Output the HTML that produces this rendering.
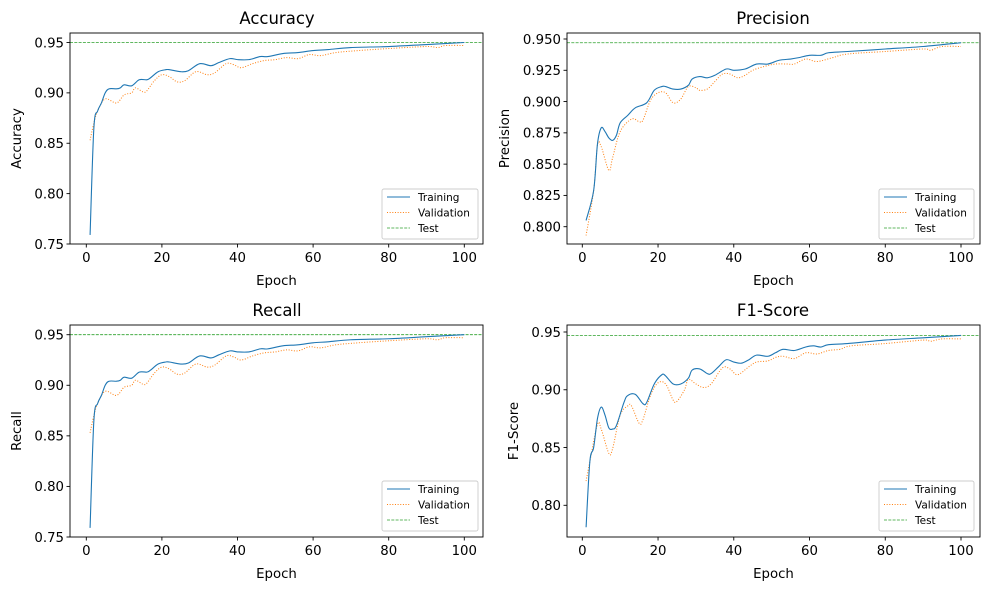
<!DOCTYPE html>
<html><head><meta charset="utf-8"><style>
body{margin:0;background:#fff}
svg{display:block;font-family:"DejaVu Sans","Liberation Sans",sans-serif}
</style></head><body>
<svg id="s" width="989" height="590" xmlns="http://www.w3.org/2000/svg">
<rect width="989" height="590" fill="#fff"/>
<g id="g"></g>
<text x="277" y="24" font-size="16.5" text-anchor="middle">Accuracy</text>
<text x="773" y="24" font-size="16.5" text-anchor="middle">Precision</text>
<text x="277" y="316" font-size="16.5" text-anchor="middle">Recall</text>
<text x="773" y="316" font-size="16.5" text-anchor="middle">F1-Score</text>
</svg>
<script>
const acT=[[1,.759],[2,.865],[3,.882],[4,.890],[5,.900],[6,.904],[8,.904],[9,.905],[10,.908],[12,.907],[14,.913],[16,.913],[17,.915],[19,.921],[21,.923],[22,.923],[25,.921],[27,.922],[30,.929],[33,.927],[35,.930],[38,.934],[40,.933],[43,.933],[46,.936],[48,.936],[52,.939],[56,.940],[60,.942],[64,.943],[70,.945],[80,.946],[90,.948],[100,.950]];
const acV=[[1,.853],[2,.870],[3,.882],[5,.894],[8,.890],[10,.898],[12,.900],[13,.905],[15,.901],[16,.902],[18,.912],[20,.918],[22,.916],[24,.911],[26,.912],[29,.921],[32,.918],[34,.920],[37,.929],[39,.928],[41,.925],[44,.929],[47,.932],[50,.933],[53,.935],[56,.934],[59,.938],[62,.937],[66,.940],[72,.942],[80,.944],[90,.946],[93,.945],[95,.947],[100,.947]];
const prT=[[1,.805],[3,.829],[4,.866],[5,.879],[6,.876],[7,.871],[8,.869],[9,.873],[10,.883],[12,.889],[14,.895],[17,.899],[19,.909],[21,.912],[22,.912],[24,.910],[26,.910],[28,.913],[29,.918],[31,.920],[33,.919],[35,.921],[38,.926],[40,.925],[43,.926],[46,.930],[49,.930],[52,.933],[55,.934],[57,.935],[60,.937],[63,.937],[65,.939],[70,.940],[80,.942],[90,.944],[100,.947]];
const prV=[[1,.793],[3,.829],[4,.865],[5,.864],[7,.845],[8,.855],[10,.876],[13,.886],[15,.884],[16,.885],[18,.901],[20,.907],[22,.907],[24,.899],[26,.902],[28,.912],[30,.911],[31,.909],[33,.910],[35,.916],[37,.922],[39,.922],[41,.919],[43,.921],[45,.925],[48,.928],[51,.930],[54,.930],[56,.930],[59,.934],[62,.932],[66,.935],[70,.938],[80,.940],[90,.942],[92,.941],[95,.944],[100,.944]];
const f1T=[[1,.781],[2,.838],[3,.850],[4,.875],[5,.885],[6,.878],[7,.867],[8,.866],[9,.869],[11,.889],[12,.895],[14,.896],[16,.888],[17,.889],[19,.905],[21,.913],[22,.912],[24,.905],[26,.905],[28,.910],[29,.917],[31,.918],[33,.914],[34,.914],[36,.920],[38,.926],[40,.924],[42,.923],[44,.926],[46,.930],[49,.929],[51,.932],[53,.935],[56,.934],[59,.937],[61,.938],[63,.937],[65,.939],[70,.940],[80,.943],[90,.945],[100,.947]];
const f1V=[[1,.821],[2,.838],[4,.870],[5,.866],[7,.845],[8,.849],[10,.878],[12,.886],[13,.886],[15,.871],[16,.874],[18,.895],[20,.906],[22,.905],[24,.891],[25,.890],[27,.900],[28,.909],[30,.905],[32,.902],[34,.905],[37,.919],[39,.918],[41,.913],[44,.920],[46,.924],[49,.925],[51,.928],[53,.929],[56,.927],[59,.932],[62,.931],[65,.934],[68,.935],[71,.938],[80,.940],[90,.943],[92,.942],[95,.944],[100,.944]];
const axes=[
{l:70,r:483,t:33,b:244,x0:86.3,x1:464.3,v0:.95,p0:42.5,v1:.75,p1:244,ticks:[.75,.8,.85,.9,.95],fmt:2,yl:"Accuracy",ylx:16,T:acT,V:acV,test:.95,lg:[382,189,478]},
{l:567,r:980,t:33,b:244,x0:582.3,x1:961,v0:.95,p0:39,v1:.8,p1:226.7,ticks:[.8,.825,.85,.875,.9,.925,.95],fmt:3,yl:"Precision",ylx:504,T:prT,V:prV,test:.947,lg:[879,189,974]},
{l:70,r:483,t:325,b:537,x0:86.3,x1:464.3,v0:.95,p0:334.7,v1:.75,p1:537,ticks:[.75,.8,.85,.9,.95],fmt:2,yl:"Recall",ylx:16,T:acT,V:acV,test:.95,lg:[382,481,478]},
{l:567,r:980,t:325,b:537,x0:582.3,x1:961,v0:.95,p0:332,v1:.8,p1:505.3,ticks:[.8,.85,.9,.95],fmt:2,yl:"F1-Score",ylx:513,T:f1T,V:f1V,test:.947,lg:[879,481,974]}];
let h="";
function path(pts,fx,fy){const P=pts.map(p=>[fx(p[0]),fy(p[1])]);let d="M"+P[0][0].toFixed(2)+","+P[0][1].toFixed(2);
for(let i=0;i<P.length-1;i++){const p0=P[Math.max(0,i-1)],p1=P[i],p2=P[i+1],p3=P[Math.min(P.length-1,i+2)];
const c1=[p1[0]+(p2[0]-p0[0])/6,p1[1]+(p2[1]-p0[1])/6],c2=[p2[0]-(p3[0]-p1[0])/6,p2[1]-(p3[1]-p1[1])/6];
d+="C"+c1.map(v=>v.toFixed(2))+" "+c2.map(v=>v.toFixed(2))+" "+p2.map(v=>v.toFixed(2));}return d;}
for(const a of axes){
const fx=e=>a.x0+(a.x1-a.x0)*e/100, fy=v=>a.p0+(a.p1-a.p0)*(v-a.v0)/(a.v1-a.v0);
h+=`<line x1="${a.l}" x2="${a.r}" y1="${fy(a.test)}" y2="${fy(a.test)}" stroke="#2ca02c" stroke-width="0.8" stroke-dasharray="3,1.3"/>`;
h+=`<path d="${path(a.V,fx,fy)}" fill="none" stroke="#ff7f0e" stroke-width="1" stroke-dasharray="1,1.65"/>`;
h+=`<path d="${path(a.T,fx,fy)}" fill="none" stroke="#1f77b4" stroke-width="1.1"/>`;
h+=`<rect x="${a.l}" y="${a.t}" width="${a.r-a.l}" height="${a.b-a.t}" fill="none" stroke="#000" stroke-width="0.9"/>`;
for(let e=0;e<=100;e+=20){const x=fx(e);h+=`<line x1="${x}" x2="${x}" y1="${a.b}" y2="${a.b+3.5}" stroke="#000" stroke-width="0.9"/><text x="${x}" y="${a.b+18}" font-size="13.3" text-anchor="middle">${e}</text>`;}
for(const v of a.ticks){const y=fy(v);h+=`<line x1="${a.l-3.5}" x2="${a.l}" y1="${y}" y2="${y}" stroke="#000" stroke-width="0.9"/><text x="${a.l-6}" y="${y+4.8}" font-size="13.3" text-anchor="end">${v.toFixed(a.fmt)}</text>`;}
const cx=(a.l+a.r)/2;
h+=`<text x="${cx}" y="${a.b+41}" font-size="13.3" text-anchor="middle">Epoch</text>`;
const cy=(a.t+a.b)/2;
h+=`<text transform="translate(${a.ylx+5},${cy}) rotate(-90)" font-size="13.3" text-anchor="middle">${a.yl}</text>`;
const [lx,ly,lr]=a.lg;
h+=`<rect x="${lx}" y="${ly}" width="${lr-lx}" height="50" rx="2" fill="#fff" fill-opacity="0.8" stroke="#ccc" stroke-width="0.9"/>`;
const rows=[["Training","#1f77b4",""],["Validation","#ff7f0e","1,1.65"],["Test","#2ca02c","3,1.3"]];
rows.forEach((r,i)=>{const y=ly+8+i*15.5;h+=`<line x1="${lx+5}" x2="${lx+28}" y1="${y}" y2="${y}" stroke="${r[1]}" stroke-width="${i==2?0.8:1.1}" ${r[2]?`stroke-dasharray="${r[2]}"`:""}/><text x="${lx+36}" y="${y+3.8}" font-size="10.5">${r[0]}</text>`;});
}
document.getElementById("g").innerHTML=h;
</script>
</body></html>
